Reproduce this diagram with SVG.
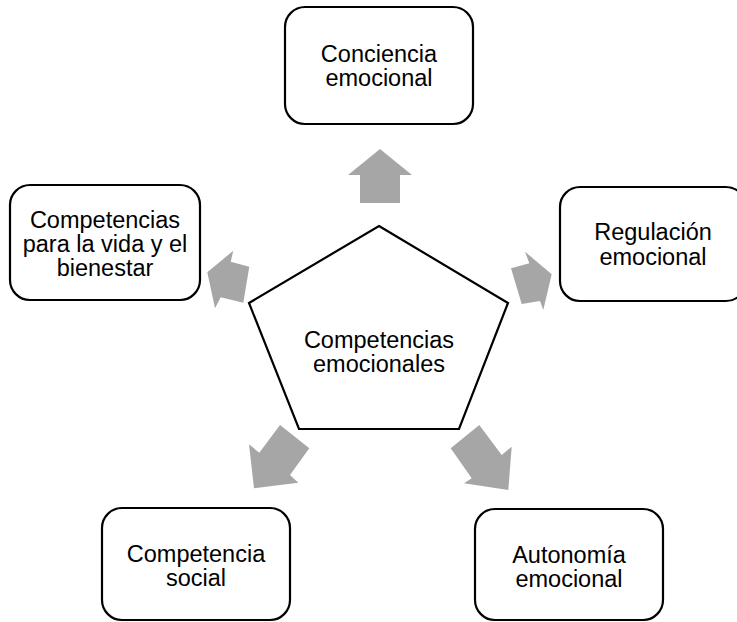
<svg xmlns="http://www.w3.org/2000/svg" width="737" height="622" viewBox="0 0 737 622">
<style>
.box{fill:#fff;stroke:#000;stroke-width:2.2}
.arr{fill:#a6a6a6;stroke:none}
.t{font-family:"Liberation Sans",Arial,sans-serif;font-size:23.5px;fill:#000;text-anchor:middle}
</style>
<rect width="737" height="622" fill="#fff"/>
<g id="connectors">
<polygon class="arr" points="380,149 412,175 400,175 400,203 360,203 360,175 348,175"/>
<polygon class="arr" points="551.7,274.3 543.3,310 540,301 521.7,304 511,268.3 529.3,263.3 525,251.7"/>
<polygon class="arr" points="207.3,272.3 233.3,250.7 230.7,261.7 249.3,266.7 243.3,302.7 220.7,297.3 215,308.3"/>
<polygon class="arr" points="254,488.3 249,444.3 259.3,452.7 280,425 309.3,448.3 290,475 298.3,482.7"/>
<polygon class="arr" points="508.3,490 464,483.3 471.7,478.3 450.7,448.3 479.3,425 501.7,455 511.7,446.7"/>
</g>
<g id="center">
<polygon class="box" points="379,226 508,303 459,429 299,429 249,303"/>
<text class="t" x="379" y="347.5">Competencias</text>
<text class="t" x="379" y="371.5">emocionales</text>
</g>
<g id="conciencia">
<rect class="box" x="285" y="7" width="188" height="117" rx="20"/>
<text class="t" x="379" y="61.5">Conciencia</text>
<text class="t" x="379" y="86">emocional</text>
</g>
<g id="regulacion">
<rect class="box" x="560" y="187" width="186" height="114" rx="20"/>
<text class="t" x="653" y="240">Regulación</text>
<text class="t" x="653" y="264.5">emocional</text>
</g>
<g id="autonomia">
<rect class="box" x="475" y="509" width="188" height="111" rx="20"/>
<text class="t" x="569" y="562.5">Autonomía</text>
<text class="t" x="569" y="586.5">emocional</text>
</g>
<g id="social">
<rect class="box" x="102" y="508" width="188" height="112" rx="20"/>
<text class="t" x="196" y="561.5">Competencia</text>
<text class="t" x="196" y="585.5">social</text>
</g>
<g id="vida">
<rect class="box" x="10" y="185" width="190" height="115" rx="20"/>
<text class="t" x="105" y="227.5">Competencias</text>
<text class="t" x="105" y="251.5">para la vida y el</text>
<text class="t" x="105" y="275.5">bienestar</text>
</g>
</svg>
